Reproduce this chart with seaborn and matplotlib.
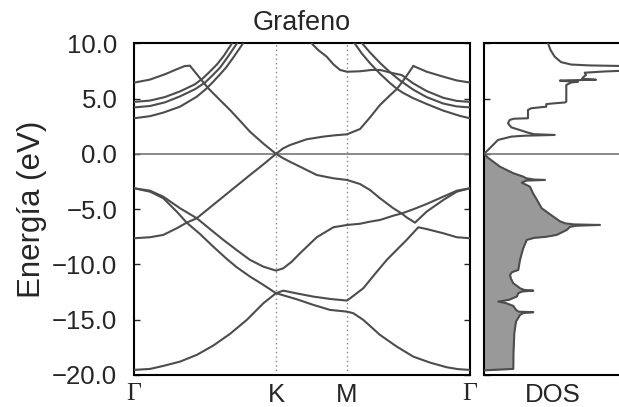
import matplotlib
matplotlib.use("Agg")
import matplotlib.pyplot as plt
from matplotlib.ticker import FuncFormatter
import pandas as pd
import seaborn as sns

# ---- high-symmetry path Γ–K–M–Γ, |ΓK| = 1 ----
k_ticks = [0.0, 1.0, 1.5, 2.366]
k_labels = ["Γ", "K", "M", "Γ"]
e_ticks = [-20, -15, -10, -5, 0, 5, 10]

# ---- valence bands (ordered by energy) ----
v1_k = [0, 0.113, 0.206, 0.324, 0.442, 0.558, 0.676, 0.794, 0.911, 1.0, 1.146, 1.263,
        1.380, 1.5, 1.544, 1.615, 1.732, 1.850, 1.967, 2.085, 2.202, 2.282, 2.366]
v1_E = [-19.54, -19.45, -19.18, -18.79, -18.18, -17.34, -16.28, -15.02, -13.51, -12.60,
        -13.15, -13.66, -14.11, -14.27, -14.41, -15.02, -16.37, -17.43, -18.34, -18.88,
        -19.30, -19.47, -19.54]

v2_k = [0, 0.113, 0.206, 0.301, 0.371, 0.465, 0.558, 0.653, 0.723, 0.817, 0.911, 1.0,
        1.051, 1.146, 1.263, 1.380, 1.5, 1.544, 1.615, 1.697, 1.780, 1.826, 1.920, 2.002,
        2.061, 2.178, 2.273, 2.366]
v2_E = [-7.63, -7.54, -7.33, -6.73, -6.22, -7.25, -8.39, -9.50, -10.25, -11.10, -11.85,
        -12.60, -12.37, -12.62, -12.91, -13.12, -13.27, -12.85, -12.15, -10.86, -9.59,
        -8.99, -7.78, -6.64, -6.80, -7.18, -7.54, -7.63]

v3_k = [0, 0.113, 0.206, 0.301, 0.371, 0.442, 0.535, 0.629, 0.723, 0.817, 0.911, 1.0,
        1.051, 1.111, 1.169, 1.287, 1.404, 1.5, 1.592, 1.662, 1.732, 1.826, 1.885, 1.920,
        1.979, 2.061, 2.178, 2.273, 2.366]
v3_E = [-3.11, -3.42, -4.01, -5.22, -6.22, -5.82, -6.80, -7.78, -8.70, -9.59, -10.20,
        -10.56, -10.35, -9.75, -8.99, -7.54, -6.64, -6.43, -6.32, -6.13, -5.98, -5.59,
        -5.39, -5.75, -6.22, -5.22, -4.17, -3.42, -3.11]

v4_k = [0, 0.113, 0.206, 0.324, 0.442, 0.535, 0.629, 0.723, 0.817, 0.911, 1.0, 1.051,
        1.099, 1.169, 1.287, 1.404, 1.5, 1.592, 1.662, 1.732, 1.826, 1.885, 1.967, 2.061,
        2.178, 2.273, 2.366]
v4_E = [-3.11, -3.33, -3.87, -4.92, -5.82, -4.85, -3.87, -2.89, -1.91, -0.95, 0.00,
        -0.40, -0.72, -1.16, -1.91, -2.21, -2.36, -2.73, -3.27, -4.01, -4.92, -5.39,
        -5.01, -4.53, -3.87, -3.33, -3.11]

# ---- conduction bands ----
pistar_k = [0.394, 0.465, 0.523, 0.599, 0.676, 0.746, 0.817, 0.911, 1.0, 1.049, 1.099,
            1.216, 1.333, 1.415, 1.5, 1.592, 1.662, 1.732, 1.803, 1.852, 1.894, 1.930,
            1.967]
pistar_E = [7.97, 6.84, 5.93, 4.95, 3.97, 3.00, 2.00, 0.93, 0.00, 0.49, 0.80, 1.32,
            1.56, 1.68, 1.77, 2.25, 3.30, 4.42, 5.30, 5.88, 6.60, 7.25, 7.95]

s1_left_k = [0, 0.113, 0.206, 0.324, 0.442, 0.507, 0.556, 0.599, 0.648, 0.704, 0.768, 0.803]
s1_left_E = [3.22, 3.41, 3.73, 4.27, 5.17, 5.87, 6.50, 7.10, 7.80, 8.80, 10.00, 10.70]
s1_right_k = [2.366, 2.296, 2.178, 2.061, 1.967, 1.894, 1.852, 1.803, 1.732, 1.662,
              1.606, 1.556, 1.521]
s1_right_E = [3.22, 3.43, 3.91, 4.51, 5.03, 5.52, 5.88, 6.40, 7.25, 8.20, 9.05, 9.95, 10.60]

s2_left_k = [0, 0.113, 0.218, 0.324, 0.430, 0.500, 0.549, 0.606, 0.662, 0.725, 0.761]
s2_left_E = [4.20, 4.33, 4.66, 5.20, 5.85, 6.45, 7.05, 7.80, 8.80, 10.00, 10.70]
s2_right_k = [2.366, 2.273, 2.178, 2.061, 1.967, 1.873, 1.803, 1.732, 1.662, 1.606, 1.563]
s2_right_E = [4.20, 4.29, 4.55, 5.13, 5.80, 6.64, 7.38, 8.23, 9.17, 10.00, 10.65]

s3_left_k = [0, 0.113, 0.218, 0.324, 0.430, 0.486, 0.535, 0.585, 0.634, 0.690, 0.725]
s3_left_E = [4.70, 4.82, 5.14, 5.65, 6.30, 6.85, 7.45, 8.10, 8.90, 10.00, 10.70]
s3_right_k = [1.211, 1.251, 1.296, 1.357, 1.404, 1.451, 1.5, 1.592, 1.674, 1.732, 1.826,
              1.885, 1.967, 2.061, 2.178, 2.273, 2.366]
s3_right_E = [10.50, 10.00, 9.40, 8.79, 8.10, 7.59, 7.43, 7.47, 7.59, 7.59, 7.29, 7.13,
              6.37, 5.68, 5.07, 4.79, 4.70]

s4_left_k = [0, 0.113, 0.218, 0.310, 0.359, 0.394]
s4_left_E = [6.44, 6.72, 7.20, 7.70, 7.95, 7.97]
s4_right_k = [2.366, 2.273, 2.178, 2.061, 1.967]
s4_right_E = [6.45, 6.64, 6.98, 7.43, 7.95]

# ---- density of states ----
dos_val_E = [0.0, -0.35, -1.16, -1.75, -2.06, -2.20, -2.32, -2.36, -2.42, -2.60, -2.97,
             -3.56, -4.17, -4.92, -5.68, -6.10, -6.28, -6.38, -6.43, -6.50, -6.60, -6.88,
             -7.33, -7.50, -7.60, -7.78, -8.60, -9.59, -10.50, -10.70, -10.95, -11.30,
             -11.70, -12.15, -12.30, -12.37, -12.45, -12.60, -12.91, -13.20, -13.36,
             -13.50, -13.75, -14.10, -14.27, -14.32, -14.40, -14.57, -15.17, -16.22,
             -18.00, -19.45, -19.58]
dos_val = [0.0, 0.04, 0.16, 0.293, 0.393, 0.42, 0.50, 0.61, 0.42, 0.377, 0.46, 0.49,
           0.53, 0.577, 0.693, 0.76, 0.81, 0.90, 1.16, 0.92, 0.86, 0.827, 0.727, 0.62,
           0.50, 0.427, 0.39, 0.36, 0.343, 0.28, 0.26, 0.27, 0.293, 0.36, 0.40, 0.493,
           0.38, 0.343, 0.327, 0.25, 0.143, 0.22, 0.293, 0.32, 0.343, 0.493, 0.39, 0.36,
           0.32, 0.303, 0.295, 0.293, 0.0]
dos_con_E = [0.0, 0.35, 1.26, 1.56, 1.64, 1.71, 1.78, 1.92, 2.40, 2.77, 3.07, 3.18, 3.22,
             3.97, 4.12, 4.20, 4.27, 4.50, 4.57, 4.65, 4.72, 6.23, 6.45, 6.53, 6.60, 6.64,
             6.70, 6.80, 7.00, 7.13, 7.34, 7.45, 7.52, 7.70, 7.92, 7.96, 8.00, 8.08, 8.30,
             8.79, 9.40, 10.00, 10.50]
dos_con = [0.0, 0.04, 0.14, 0.273, 0.40, 0.707, 0.50, 0.44, 0.273, 0.24, 0.257, 0.30,
           0.44, 0.44, 0.47, 0.55, 0.623, 0.623, 0.70, 0.81, 0.823, 0.823, 0.87, 0.94,
           0.76, 0.76, 1.12, 0.98, 1.00, 1.02, 1.007, 1.20, 1.40, 1.60, 1.50, 1.30, 1.05,
           0.87, 0.77, 0.707, 0.665, 0.64, 0.63]

band_color = "#4d4d4d"
fill_color = "#999999"
zero_color = "#777777"

sns.set_style("ticks")
plt.rcParams["font.family"] = ["Liberation Sans", "DejaVu Sans"]
plt.rcParams["axes.linewidth"] = 1.5
plt.rcParams["axes.edgecolor"] = "black"

curves = [(v1_k, v1_E), (v2_k, v2_E), (v3_k, v3_E), (v4_k, v4_E),
          (pistar_k, pistar_E),
          (s1_left_k, s1_left_E), (s1_right_k, s1_right_E),
          (s2_left_k, s2_left_E), (s2_right_k, s2_right_E),
          (s3_left_k, s3_left_E), (s3_right_k, s3_right_E),
          (s4_left_k, s4_left_E), (s4_right_k, s4_right_E)]
rows = []
for seg, (ks, es) in enumerate(curves):
    for k, e in zip(ks, es):
        rows.append({"seg": seg, "k": k, "E": e})
bands = pd.DataFrame(rows)

fig = plt.figure(figsize=(6.19, 4.07), dpi=100)
ax = fig.add_axes([134 / 619, 32 / 407, 336 / 619, 331.7 / 407])
ax2 = fig.add_axes([484 / 619, 32 / 407, 137 / 619, 331.7 / 407])

# band structure
ax.axhline(0, color=zero_color, lw=1.2, zorder=1)
for kv in k_ticks[1:3]:
    ax.axvline(kv, color="#888888", lw=1.0, ls=(0, (1, 2.2)), zorder=1)
sns.lineplot(data=bands, x="k", y="E", units="seg", estimator=None, sort=False,
             color=band_color, lw=1.5, ax=ax, legend=False, zorder=3)
ax.set_xlim(0, 2.366)
ax.set_ylim(-20, 10)
ax.set_xticks(k_ticks)
ax.set_xticklabels(k_labels)
for lbl in ax.get_xticklabels():
    if lbl.get_text() == "Γ":
        lbl.set_family(["Liberation Serif", "DejaVu Serif"])
        lbl.set_fontsize(20.5)
ax.set_yticks(e_ticks)
ax.yaxis.set_major_formatter(FuncFormatter(lambda v, p: f"{v:.1f}".replace("-", "\u2212")))
ax.tick_params(axis="x", length=0, pad=5.5, labelsize=18.5)
ax.tick_params(axis="y", direction="in", length=4, width=1, left=True, right=True,
               pad=12, labelsize=18.5)
ax.set_xlabel("")
ax.set_ylabel("Energía (eV)", fontsize=22.5, labelpad=4)
ax.set_title("Grafeno", fontsize=19.5, pad=9.5)

# density of states
dos_E = dos_val_E[::-1] + dos_con_E[1:]
dos_all = dos_val[::-1] + dos_con[1:]
ax2.fill_betweenx(dos_val_E, 0, dos_val, color=fill_color, lw=0, zorder=2)
ax2.axhline(0, color=zero_color, lw=1.2, zorder=1)
sns.lineplot(x=dos_all, y=dos_E, orient="y", sort=False, estimator=None,
             color=band_color, lw=1.5, ax=ax2, zorder=3)
ax2.set_xlim(0, 1.37)
ax2.set_ylim(-20, 10)
ax2.set_xticks([])
ax2.set_yticks(e_ticks)
ax2.tick_params(axis="y", direction="in", length=4, width=1, labelleft=False)
ax2.set_ylabel("")
ax2.set_xlabel("DOS", fontsize=18.5, labelpad=5.5)

fig.savefig("out.png", dpi=100)
